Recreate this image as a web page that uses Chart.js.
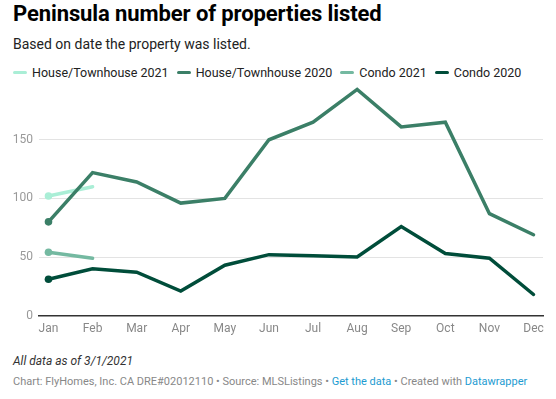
<!DOCTYPE html>
<html><head><meta charset="utf-8">
<script src="https://cdn.jsdelivr.net/npm/chart.js@4"></script>
<style>
html,body{margin:0;padding:0;background:#fff;width:556px;height:399px;overflow:hidden;font-family:Roboto,"Noto Sans",sans-serif;}
#title{position:absolute;left:13px;top:1px;font-size:22px;font-weight:700;color:#000;letter-spacing:-0.1px;white-space:nowrap;}
#sub{position:absolute;left:13px;top:36px;font-size:14px;color:#222;white-space:nowrap;}
#legend{position:absolute;left:13px;top:65px;font-size:12.5px;color:#222;white-space:nowrap;display:flex;}
.li{display:flex;align-items:center;margin-right:8px;}
.sw{width:14px;height:3.5px;border-radius:2px;margin-right:5px;}
#wrap{position:absolute;left:0;top:68px;width:556px;height:274px;}
#note{position:absolute;left:13px;top:354px;font-size:12px;font-style:italic;color:#333;white-space:nowrap;}
#src{position:absolute;left:13px;top:375px;font-size:11px;color:#888;white-space:nowrap;}
#src a{color:#1d9bd1;text-decoration:none;}
</style></head>
<body>
<div id="title">Peninsula number of properties listed</div>
<div id="sub">Based on date the property was listed.</div>
<div id="legend"></div>
<div id="wrap"><canvas id="c" width="556" height="274"></canvas></div>
<div id="note">All data as of 3/1/2021</div>
<div id="src">Chart: FlyHomes, Inc. CA DRE#02012110 • Source: MLSListings • <a>Get the data</a> • Created with <a>Datawrapper</a></div>
<script>
const months = ["Jan","Feb","Mar","Apr","May","Jun","Jul","Aug","Sep","Oct","Nov","Dec"];
const house2021 = [102, 110];
const house2020 = [80, 122, 114, 96, 100, 150, 165, 193, 161, 165, 87, 69];
const condo2021 = [54, 49];
const condo2020 = [31, 40, 37, 21, 43, 52, 51, 50, 76, 53, 49, 18];
const yTicks = [0, 50, 100, 150];

const seriesNames = ["House/Townhouse 2021","House/Townhouse 2020","Condo 2021","Condo 2020"];
const seriesColors = ["#aaeed6","#3b7f67","#74b9a1","#004d3a"];
const seriesData = [house2021, house2020, condo2021, condo2020];

const leg = document.getElementById('legend');
seriesNames.forEach((n,i)=>{
  const d=document.createElement('div');d.className='li';
  d.innerHTML='<span class="sw" style="background:'+seriesColors[i]+'"></span>'+n;
  leg.appendChild(d);
});

const toXY = arr => arr.map((v,i)=>({x:i,y:v}));
const datasets = seriesData.map((arr,i)=>({
  label: seriesNames[i],
  data: toXY(arr),
  borderColor: seriesColors[i],
  backgroundColor: seriesColors[i],
  borderWidth: 3.5,
  pointRadius: arr.map((v,j)=> j===0 ? 3.8 : 0),
  pointBorderWidth: 0,
  pointHoverRadius: 0,
  tension: 0,
  borderCapStyle: 'round',
  borderJoinStyle: 'miter'
})).reverse();

new Chart(document.getElementById('c'), {
  type: 'line',
  data: { datasets },
  options: {
    responsive: false,
    animation: false,
    layout: { padding: { left: 0, right: 13, top: 0, bottom: 0 } },
    plugins: { legend: { display: false }, tooltip: { enabled: false } },
    scales: {
      x: {
        type: 'linear',
        min: -0.215, max: 11.215,
        afterBuildTicks: s => { s.ticks = months.map((m,i)=>({value:i})); },
        ticks: { callback: v => months[v], color: '#888', font: { family: 'Roboto', size: 12 }, padding: 6, maxRotation: 0, autoSkip: false },
        grid: { display: false, drawTicks: false },
        border: { display: true, color: '#333', width: 1.5 }
      },
      y: {
        min: 0, max: 200,
        afterBuildTicks: s => { s.ticks = yTicks.map(v=>({value:v})); },
        afterFit: s => { s.width = 39; },
        ticks: { color: '#999', font: { family: 'Roboto', size: 12 }, padding: 6 },
        grid: { color: '#e3e3e3', drawTicks: false, lineWidth: 1 },
        border: { display: false }
      }
    }
  }
});
</script>
</body></html>
